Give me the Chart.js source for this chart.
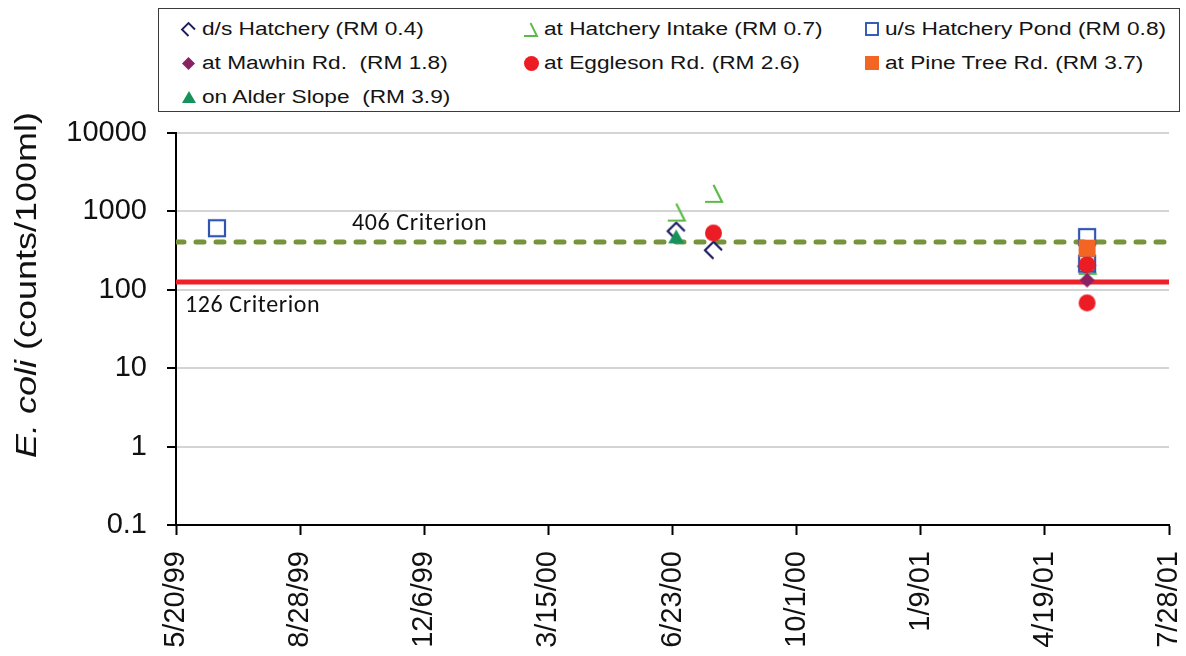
<!DOCTYPE html>
<html>
<head>
<meta charset="utf-8">
<script src="https://cdn.jsdelivr.net/npm/chart.js@4.4.0/dist/chart.umd.min.js"></script>
<style>
  html, body { margin: 0; padding: 0; background: #fff; }
  #wrap { position: relative; width: 1186px; height: 656px; overflow: hidden; }
  #chart { position: absolute; left: 0; top: 0; }
  #legend { position: absolute; left: 158px; top: 8px; width: 1022px; height: 104px;
            border: 1px solid #3a3a3a; background: #fff; box-sizing: border-box; }
  .item { position: absolute; height: 24px; display: flex; align-items: center;
          font: 18px "Liberation Sans", Arial, sans-serif; color: #141414; white-space: pre; }
  .item canvas { display: block; }
  .item span { display: inline-block; transform: scaleX(1.26); transform-origin: left center; }
</style>
</head>
<body>
<div id="wrap">
  <canvas id="chart" width="1186" height="656"></canvas>
  <div id="legend"></div>
</div>
<script>
// sampling sites
const siteNames = [
  'd/s Hatchery (RM 0.4)',
  'at Hatchery Intake (RM 0.7)',
  'u/s Hatchery Pond (RM 0.8)',
  'at Mawhin Rd.  (RM 1.8)',
  'at Eggleson Rd. (RM 2.6)',
  'at Pine Tree Rd. (RM 3.7)',
  'on Alder Slope  (RM 3.9)'
];

// E. coli counts per site (sample date, counts/100ml)
const dsHatcheryDates = ['2000-06-26', '2000-07-26', '2001-05-23'];
const dsHatcheryEcoli = [560, 320, 200];
const intakeDates = ['2000-06-26', '2000-07-26', '2001-05-23'];
const intakeEcoli = [980, 1700, 205];
const pondDates = ['1999-06-22', '2001-05-23', '2001-05-23'];
const pondEcoli = [610, 470, 215];
const mawhinDates = ['2001-05-23'];
const mawhinEcoli = [133];
const egglesonDates = ['2000-07-26', '2001-05-23', '2001-05-23'];
const egglesonEcoli = [530, 210, 68];
const pineTreeDates = ['2001-05-23'];
const pineTreeEcoli = [340];
const alderDates = ['2000-06-26'];
const alderEcoli = [480];

// criteria lines
const criteria = [406, 126];

// axis ticks
const xTickLabels = ['5/20/99', '8/28/99', '12/6/99', '3/15/00', '6/23/00', '10/1/00', '1/9/01', '4/19/01', '7/28/01'];
const yTicks = [0.1, 1, 10, 100, 1000, 10000];

const DAY = 86400000;
function isoDay(s) {
  const p = s.split('-').map(Number);
  return Date.UTC(p[0], p[1] - 1, p[2]) / DAY;
}
function mdyDay(s) {
  const p = s.split('/').map(Number);
  const yr = p[2] < 50 ? 2000 + p[2] : 1900 + p[2];
  return Date.UTC(yr, p[0] - 1, p[1]) / DAY;
}
function fmtDay(v) {
  const d = new Date(Math.round(v) * DAY);
  return (d.getUTCMonth() + 1) + '/' + d.getUTCDate() + '/' + String(d.getUTCFullYear() % 100).padStart(2, '0');
}
function pts(dates, vals) {
  return dates.map((d, i) => ({ x: isoDay(d), y: vals[i] }));
}

const xTickValues = xTickLabels.map(mdyDay);
const xMin = xTickValues[0];
const xMax = xTickValues[xTickValues.length - 1];

// marker drawing (Excel-like shapes)
function makeMarker(kind, color, size) {
  const pad = 3;
  const c = document.createElement('canvas');
  c.width = c.height = size + pad * 2;
  const g = c.getContext('2d');
  const s = size, o = pad, m = pad + size / 2;
  g.strokeStyle = color;
  g.fillStyle = color;
  g.lineWidth = size > 14 ? 2.2 : 1.9;
  g.lineJoin = 'miter';
  g.beginPath();
  if (kind === 'openDiamond') {
    g.moveTo(o + s, m); g.lineTo(m, o); g.lineTo(o, m); g.lineTo(m, o + s);
    g.stroke();
  } else if (kind === 'openTriangle') {
    g.moveTo(m, o); g.lineTo(o + s, o + s); g.lineTo(o, o + s);
    g.stroke();
  } else if (kind === 'openSquare') {
    g.strokeRect(o + 1, o + 1, s - 2, s - 2);
  } else if (kind === 'diamond') {
    g.moveTo(m, o); g.lineTo(o + s, m); g.lineTo(m, o + s); g.lineTo(o, m); g.closePath();
    g.fill();
  } else if (kind === 'circle') {
    g.arc(m, m, s / 2, 0, Math.PI * 2);
    g.fill();
  } else if (kind === 'square') {
    g.fillRect(o, o, s, s);
  } else if (kind === 'triangle') {
    g.moveTo(m, o + 1); g.lineTo(o + s, o + s - 1); g.lineTo(o, o + s - 1); g.closePath();
    g.fill();
  }
  return c;
}

const siteStyle = [
  { kind: 'openDiamond',  color: '#1c1c62', size: 17, lsize: 13 },
  { kind: 'openTriangle', color: '#5cbb46', size: 17, lsize: 13 },
  { kind: 'openSquare',   color: '#2f55b0', size: 18, lsize: 14 },
  { kind: 'diamond',      color: '#8b2062', size: 15, lsize: 13 },
  { kind: 'circle',       color: '#ec1c24', size: 17, lsize: 15 },
  { kind: 'square',       color: '#f26522', size: 17, lsize: 14 },
  { kind: 'triangle',     color: '#16925a', size: 16, lsize: 14 }
];

const siteData = [
  pts(dsHatcheryDates, dsHatcheryEcoli),
  pts(intakeDates, intakeEcoli),
  pts(pondDates, pondEcoli),
  pts(mawhinDates, mawhinEcoli),
  pts(egglesonDates, egglesonEcoli),
  pts(pineTreeDates, pineTreeEcoli),
  pts(alderDates, alderEcoli)
];

const datasets = siteNames.map((name, i) => ({
  label: name,
  data: siteData[i],
  pointStyle: makeMarker(siteStyle[i].kind, siteStyle[i].color, siteStyle[i].size),
  pointRadius: 8,
  showLine: false,
  order: 7 - i
}));

datasets.push({
  label: '406 Criterion',
  data: [{ x: xMin, y: criteria[0] }, { x: xMax, y: criteria[0] }],
  showLine: true, pointRadius: 0,
  borderColor: '#77933c', borderWidth: 5,
  borderDash: [8, 12], borderCapStyle: 'round',
  order: 20
});
datasets.push({
  label: '126 Criterion',
  data: [{ x: xMin, y: criteria[1] }, { x: xMax, y: criteria[1] }],
  showLine: true, pointRadius: 0,
  borderColor: '#ee2028', borderWidth: 5,
  order: 21
});

// y axis title with italic species name
const yTitlePlugin = {
  id: 'yTitle',
  afterDraw(chart) {
    const ctx = chart.ctx;
    const a = 'E. coli', b = ' (counts/100ml)';
    const fi = 'italic 30px "Liberation Sans", Arial, sans-serif';
    const fn = '30px "Liberation Sans", Arial, sans-serif';
    ctx.save();
    ctx.translate(36, 285);
    ctx.rotate(-Math.PI / 2);
    ctx.scale(1.2, 1);
    ctx.fillStyle = '#111';
    ctx.textAlign = 'left';
    ctx.textBaseline = 'alphabetic';
    ctx.font = fi; const wa = ctx.measureText(a).width;
    ctx.font = fn; const wb = ctx.measureText(b).width;
    const x0 = -(wa + wb) / 2;
    ctx.font = fi; ctx.fillText(a, x0, 0);
    ctx.font = fn; ctx.fillText(b, x0 + wa, 0);
    ctx.restore();
  }
};

// criterion text boxes
const criterionLabels = {
  id: 'critLabels',
  afterDraw(chart) {
    const ctx = chart.ctx, ys = chart.scales.y, left = chart.chartArea.left;
    ctx.save();
    ctx.font = '24px Carlito, Lato, sans-serif';
    ctx.letterSpacing = '0.6px';
    ctx.fillStyle = '#111';
    ctx.textAlign = 'left';
    ctx.textBaseline = 'alphabetic';
    ctx.fillText(criteria[0] + ' Criterion', left + 176, ys.getPixelForValue(criteria[0]) - 12);
    ctx.fillText(criteria[1] + ' Criterion', left + 9, ys.getPixelForValue(criteria[1]) + 30);
    ctx.restore();
  }
};

const tickFont = { family: '"Liberation Sans", Arial, sans-serif', size: 29 };

new Chart(document.getElementById('chart').getContext('2d'), {
  type: 'scatter',
  data: { datasets },
  options: {
    responsive: false,
    animation: false,
    events: [],
    layout: { padding: { left: 0, top: 133, right: 17, bottom: 0 } },
    plugins: { legend: { display: false }, tooltip: { enabled: false } },
    scales: {
      x: {
        type: 'linear',
        min: xMin, max: xMax,
        afterBuildTicks: s => { s.ticks = xTickValues.map(v => ({ value: v })); },
        afterFit: s => { s.height = 131; s.paddingLeft = 0; s.paddingRight = 0; },
        ticks: {
          autoSkip: false, minRotation: 90, maxRotation: 90,
          padding: 16, color: '#111', font: tickFont,
          callback: v => fmtDay(v)
        },
        grid: { drawOnChartArea: false, tickColor: '#000', tickLength: 10, tickWidth: 2 },
        border: { color: '#000', width: 2 }
      },
      y: {
        type: 'logarithmic',
        min: yTicks[0], max: yTicks[yTicks.length - 1],
        afterBuildTicks: s => { s.ticks = yTicks.map(v => ({ value: v })); },
        afterFit: s => { s.width = 176; },
        ticks: { padding: 20, color: '#111', font: tickFont, callback: v => String(v) },
        grid: { color: '#d4d4d4', lineWidth: 2, tickColor: '#000', tickLength: 9, tickWidth: 2 },
        border: { color: '#000', width: 2 }
      }
    }
  },
  plugins: [yTitlePlugin, criterionLabels]
});

// legend (3 columns, Excel style)
const legendCols = [181, 523, 864];
const legendRows = [28, 62, 96];
const legend = document.getElementById('legend');
siteNames.forEach((name, i) => {
  const st = siteStyle[i];
  const it = document.createElement('div');
  it.className = 'item';
  const col = legendCols[i % 3], row = legendRows[Math.floor(i / 3)];
  it.style.left = (col - 158 - 3) + 'px';
  it.style.top = (row - 8 - 12) + 'px';
  const mk = makeMarker(st.kind, st.color, st.lsize);
  mk.style.marginRight = (17 - st.lsize) + 'px';
  it.appendChild(mk);
  const sp = document.createElement('span');
  sp.textContent = name;
  it.appendChild(sp);
  legend.appendChild(it);
});
</script>
</body>
</html>
